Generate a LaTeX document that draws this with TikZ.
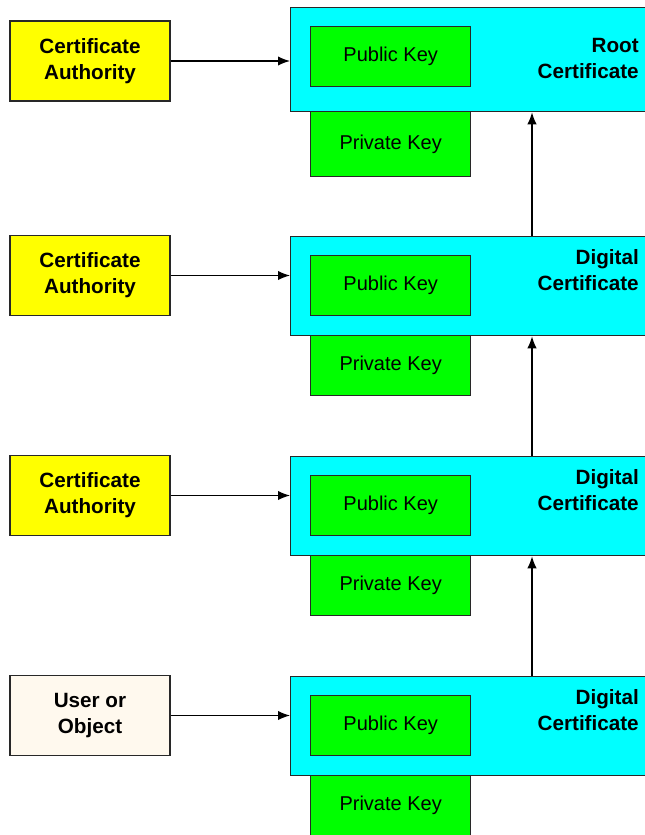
\documentclass[tikz,border=0pt]{standalone}
\usepackage{fontspec}
\setmainfont{Liberation Sans}
\usetikzlibrary{arrows.meta}
\definecolor{caYellow}{RGB}{255,255,0}
\definecolor{certCyan}{RGB}{0,255,255}
\definecolor{keyGreen}{RGB}{0,255,0}
\definecolor{userCream}{RGB}{255,249,238}
\definecolor{edgeGray}{RGB}{40,40,40}
\tikzset{
  box/.style={draw=edgeGray,line width=1pt,inner sep=0pt,align=center,
    font=\fontsize{15}{19.5}\selectfont},
  ca/.style={box,fill=caYellow,minimum width=120pt,minimum height=60pt,
    font=\bfseries\fontsize{15.5}{19.5}\selectfont},
  cert/.style={draw=edgeGray,line width=1pt,fill=certCyan,anchor=north west,
    minimum width=270pt,minimum height=74.25pt,inner sep=0pt},
  key/.style={box,fill=keyGreen,anchor=north west,minimum width=120pt,minimum height=45pt},
  certlabel/.style={anchor=base east,align=right,inner sep=0pt,
    font=\bfseries\fontsize{15.5}{19.5}\selectfont},
  link/.style={-{Latex[length=9pt,width=7pt]},line width=0.9pt}
}
\begin{document}
\begin{tikzpicture}[x=0.75pt,y=-0.75pt]
  \useasboundingbox (0,0) rectangle (644,835);
  %
  % root
  \node[ca] (ca1) at (90,61) {Certificate\\Authority};
  \node[cert,minimum height=78pt] (cert1) at (290,7) {};
  \node[key] (pub1) at (310,26) {Public Key};
  \node[key,minimum height=48.75pt] (priv1) at (310,111) {Private Key};
  \node[certlabel] (lbl1) at (639,78) {Root\\Certificate};
  %
  % intermediate
  \node[ca] (ca2) at (90,275.5) {Certificate\\Authority};
  \node[cert] (cert2) at (290,236) {};
  \node[key] (pub2) at (310,255) {Public Key};
  \node[key] (priv2) at (310,335) {Private Key};
  \node[certlabel] (lbl2) at (639,290) {Digital\\Certificate};
  %
  \node[ca] (ca3) at (90,495.5) {Certificate\\Authority};
  \node[cert] (cert3) at (290,456) {};
  \node[key] (pub3) at (310,475) {Public Key};
  \node[key] (priv3) at (310,555) {Private Key};
  \node[certlabel] (lbl3) at (639,510) {Digital\\Certificate};
  %
  % end user
  \node[ca,fill=userCream] (user) at (90,715.5) {User or\\Object};
  \node[cert] (cert4) at (290,676) {};
  \node[key] (pub4) at (310,695) {Public Key};
  \node[key] (priv4) at (310,775) {Private Key};
  \node[certlabel] (lbl4) at (639,730) {Digital\\Certificate};
  %
  \draw[link] (ca1.east) -- (ca1.east -| cert1.west);
  \draw[link] (ca2.east) -- (ca2.east -| cert2.west);
  \draw[link] (ca3.east) -- (ca3.east -| cert3.west);
  \draw[link] (user.east) -- (user.east -| cert4.west);
  %
  \draw[link] ([xshift=181.5pt]cert2.north west) -- ([xshift=181.5pt]cert1.south west);
  \draw[link] ([xshift=181.5pt]cert3.north west) -- ([xshift=181.5pt]cert2.south west);
  \draw[link] ([xshift=181.5pt]cert4.north west) -- ([xshift=181.5pt]cert3.south west);
\end{tikzpicture}
\end{document}
